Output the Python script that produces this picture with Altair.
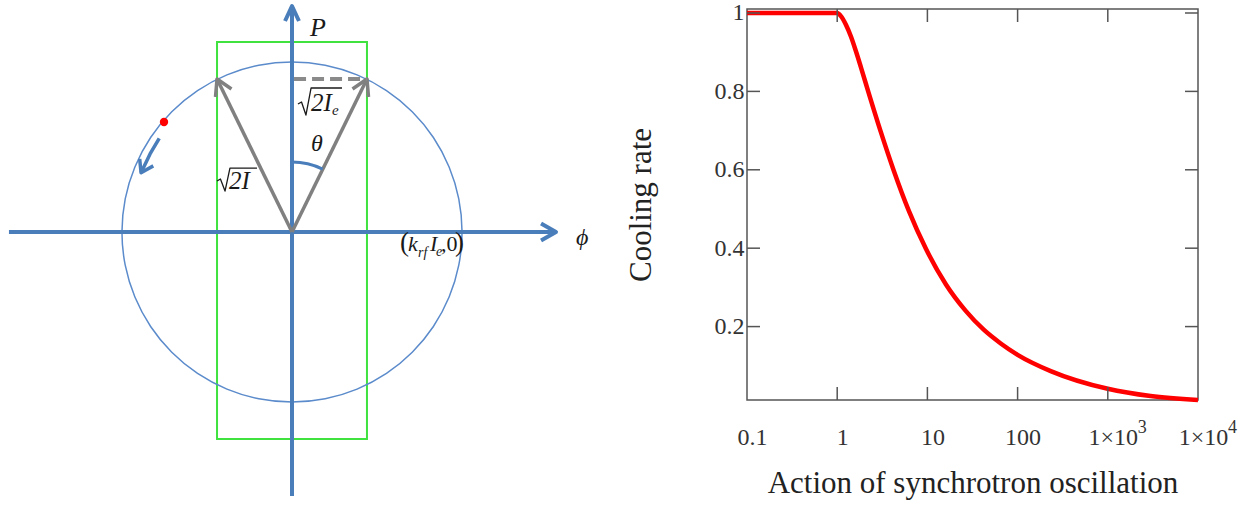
import altair as alt
import pandas as pd

# ---------------- right panel: cooling rate vs action ----------------
action = [0.1, 1.0, 1.1, 1.25, 1.42, 1.61, 1.83, 2.24, 3.05, 4.25, 6.23, 9.6, 16.0,
          26.6, 42.1, 65, 100, 233, 1000, 2980, 10000]
rate = [1.0, 1.0, 0.992, 0.970, 0.940, 0.903, 0.862, 0.795, 0.696, 0.597, 0.495, 0.399,
        0.308, 0.240, 0.192, 0.157, 0.128, 0.0865, 0.0413, 0.0227, 0.0127]
x_tick_values = [0.1, 1, 10, 100, 1000, 10000]
x_inner_ticks = [1, 10, 100, 1000]
sup_values = [1000, 10000]
sup_text = ["3", "4"]
y_tick_values = [0.2, 0.4, 0.6, 0.8, 1.0]
x_title = "Action of synchrotron oscillation"
y_title = "Cooling rate"

# ---------------- left panel: phase-space diagram (units of sqrt(2I)) ----------------
h_axis_x, h_axis_y = [-1.665, 1.541], [0.0, 0.0]
h_head_x, h_head_y = [1.465, 1.553, 1.465], [0.05, 0.0, -0.05]
v_axis_x, v_axis_y = [0.0, 0.0], [-1.553, 1.30]
v_head_x, v_head_y = [-0.041, 0.0, 0.041], [1.241, 1.329, 1.241]
r_arrow_x, r_arrow_y = [0.0, 0.441], [0.0, 0.9]
r_head_x, r_head_y = [0.356, 0.441, 0.45], [0.841, 0.9, 0.794]
l_arrow_x, l_arrow_y = [0.0, -0.441], [0.0, 0.9]
l_head_x, l_head_y = [-0.356, -0.441, -0.45], [0.841, 0.9, 0.794]
dash_x, dash_y = [0.012, 0.441], [0.9, 0.9]
move_x, move_y = [-0.781, -0.835, -0.888], [0.551, 0.459, 0.349]
move_head_x, move_head_y = [-0.896, -0.888, -0.816], [0.43, 0.349, 0.389]
rad_r_x, rad_r_y = [0.035, 0.056, 0.082, 0.112, 0.294], [0.753, 0.765, 0.688, 0.847, 0.847]
rad_l_x, rad_l_y = [-0.441, -0.421, -0.394, -0.365, -0.206], [0.30, 0.312, 0.241, 0.376, 0.376]
window_x, window_y = [-0.441, 0.441], [-1.218, 1.118]
particle_x, particle_y = [-0.753], [0.647]

italic_text = ["P", "ϕ", "θ", "2I", "e", "2I", "k", "rf", "I", "e"]
italic_x = [0.106, 1.671, 0.112, 0.112, 0.235, -0.371, 0.682, 0.741, 0.812, 0.847]
italic_y = [1.153, -0.076, 0.476, 0.712, 0.688, 0.253, -0.112, -0.147, -0.112, -0.141]
italic_fs = [26, 24, 24, 25, 15, 25, 22, 14, 22, 14]
upright_text = ["(", ",0", ")"]
upright_x = [0.635, 0.876, 0.959]
upright_y = [-0.112, -0.112, -0.112]
upright_fs = [27, 22, 27]

BLUE = "#4a7ebb"
GRAY = "#808080"
SERIF = "Liberation Serif"

# ---------- build left diagram ----------
W1, H1 = 600, 490
ux = alt.Scale(domain=[-291 / 170, (W1 - 291) / 170], nice=False, zero=False)
uy = alt.Scale(domain=[-(8 + H1 - 231) / 170, (231 - 8) / 170], nice=False, zero=False)

segments = [
    ("h_axis", h_axis_x, h_axis_y, BLUE, 4.0),
    ("h_head", h_head_x, h_head_y, BLUE, 4.0),
    ("v_axis", v_axis_x, v_axis_y, BLUE, 4.0),
    ("v_head", v_head_x, v_head_y, BLUE, 4.0),
    ("r_arrow", r_arrow_x, r_arrow_y, GRAY, 3.5),
    ("r_head", r_head_x, r_head_y, GRAY, 3.5),
    ("l_arrow", l_arrow_x, l_arrow_y, GRAY, 3.5),
    ("l_head", l_head_x, l_head_y, GRAY, 3.5),
    ("move", move_x, move_y, BLUE, 3.5),
    ("move_head", move_head_x, move_head_y, BLUE, 3.5),
    ("rad_r", rad_r_x, rad_r_y, "#1a1a1a", 1.3),
    ("rad_l", rad_l_x, rad_l_y, "#1a1a1a", 1.3),
]
rows = []
for name, xs_, ys_, col, w in segments:
    for i, (a, b) in enumerate(zip(xs_, ys_)):
        rows.append({"seg": name, "ord": i, "x": a, "y": b, "col": col, "w": w})
seg_df = pd.DataFrame(rows)


def X(f):
    return alt.X(f, type="quantitative", scale=ux, axis=None)


def Y(f):
    return alt.Y(f, type="quantitative", scale=uy, axis=None)


center_df = pd.DataFrame({"x": [0.0], "y": [0.0]})

circle = alt.Chart(center_df).mark_arc(
    radius=170.8, radius2=169.3, theta=0, theta2=6.2832, color="#5b8bcb"
).encode(x=X("x"), y=Y("y"))

theta_arc = alt.Chart(center_df).mark_arc(
    radius=71.5, radius2=68.5, theta=0, theta2=0.452, color=BLUE
).encode(x=X("x"), y=Y("y"))

window = alt.Chart(pd.DataFrame({"x0": [window_x[0]], "x1": [window_x[1]],
                                 "y0": [window_y[0]], "y1": [window_y[1]]})).mark_rect(
    fillOpacity=0, stroke="#3fe23f", strokeWidth=2
).encode(x=X("x0"), x2="x1", y=Y("y0"), y2="y1")

lines = alt.Chart(seg_df).mark_line(strokeJoin="round", strokeCap="butt").encode(
    x=X("x"), y=Y("y"), detail="seg:N", order="ord:Q",
    color=alt.Color("col:N", scale=None),
    strokeWidth=alt.StrokeWidth("w:Q", scale=None),
)

dashed = alt.Chart(pd.DataFrame({"x": dash_x, "y": dash_y})).mark_line(
    color="#8a8a8a", strokeWidth=4, strokeDash=[12, 6]
).encode(x=X("x"), y=Y("y"))

particle = alt.Chart(pd.DataFrame({"x": particle_x, "y": particle_y})).mark_point(
    filled=True, color="#ff0000", size=70, opacity=1
).encode(x=X("x"), y=Y("y"))

it_df = pd.DataFrame({"x": italic_x, "y": italic_y, "t": italic_text, "fs": italic_fs})
up_df = pd.DataFrame({"x": upright_x, "y": upright_y, "t": upright_text, "fs": upright_fs})
it_text = alt.Chart(it_df).mark_text(
    align="left", baseline="alphabetic", font=SERIF, fontStyle="italic", color="#1a1a1a"
).encode(x=X("x"), y=Y("y"), text="t:N", size=alt.Size("fs:Q", scale=None))
up_text = alt.Chart(up_df).mark_text(
    align="left", baseline="alphabetic", font=SERIF, color="#1a1a1a"
).encode(x=X("x"), y=Y("y"), text="t:N", size=alt.Size("fs:Q", scale=None))

left = alt.layer(window, circle, lines, dashed, theta_arc, particle, it_text, up_text).properties(
    width=W1, height=H1, view=alt.ViewBackground(stroke="transparent")
)

# ---------- build right chart ----------
W2, H2 = 451, 391
xs = alt.Scale(type="log", domain=[0.1, 10000], nice=False)
ys = alt.Scale(domain=[0.0127, 1.0102], nice=False, zero=False)

x_axis = alt.Axis(
    values=x_tick_values,
    labelExpr="datum.value >= 999 ? '1×10' : format(datum.value, '~g')",
    title=x_title, ticks=False, tickSize=0, domain=False, grid=False,
    labelFlush=False, labelPadding=25, labelOffset=5, titlePadding=19,
    labelFont=SERIF, labelFontSize=24, labelColor="#333333",
    titleFont=SERIF, titleFontSize=31, titleFontWeight="normal", titleColor="#222222")
y_axis = alt.Axis(
    values=y_tick_values,
    labelExpr="datum.value >= 0.99 ? '1' : format(datum.value, '.1f')",
    title=y_title, ticks=False, tickSize=0, domain=False, grid=False,
    labelPadding=3, titlePadding=57,
    labelFont=SERIF, labelFontSize=24, labelColor="#333333",
    titleFont=SERIF, titleFontSize=31, titleFontWeight="normal", titleColor="#222222")

curve_df = pd.DataFrame({"action": action, "rate": rate})
curve = alt.Chart(curve_df).mark_line(
    color="#ff0000", strokeWidth=4.5, interpolate="monotone"
).encode(
    x=alt.X("action:Q", scale=xs, axis=x_axis),
    y=alt.Y("rate:Q", scale=ys, axis=y_axis),
)

xt_df = pd.DataFrame({"action": x_inner_ticks})
yt_df = pd.DataFrame({"rate": y_tick_values})
TICK = dict(color="#555555", strokeWidth=1.5)
bottom_ticks = alt.Chart(xt_df).mark_rule(**TICK).encode(
    x=alt.X("action:Q", scale=xs, axis=x_axis), y=alt.value(H2), y2=alt.value(H2 - 13))
top_ticks = alt.Chart(xt_df).mark_rule(**TICK).encode(
    x=alt.X("action:Q", scale=xs, axis=x_axis), y=alt.value(0), y2=alt.value(13))
left_ticks = alt.Chart(yt_df).mark_rule(**TICK).encode(
    y=alt.Y("rate:Q", scale=ys, axis=y_axis), x=alt.value(0), x2=alt.value(13))
right_ticks = alt.Chart(yt_df).mark_rule(**TICK).encode(
    y=alt.Y("rate:Q", scale=ys, axis=y_axis), x=alt.value(W2), x2=alt.value(W2 - 13))

sup_df = pd.DataFrame({"action": sup_values, "t": sup_text})
superscripts = alt.Chart(sup_df).mark_text(
    align="left", baseline="alphabetic", font=SERIF, fontSize=18, color="#333333", dx=30
).encode(x=alt.X("action:Q", scale=xs, axis=x_axis), y=alt.value(H2 + 33), text="t:N")

right = alt.layer(curve, bottom_ticks, top_ticks, left_ticks, right_ticks, superscripts).properties(
    width=W2, height=H2, view=alt.ViewBackground(stroke="#555555", strokeWidth=1.5)
)

chart = alt.hconcat(left, right, spacing=146, bounds="flush").properties(
    padding=0, background="white"
)

chart.save("out.html", embed_options={"renderer": "svg", "actions": False})
